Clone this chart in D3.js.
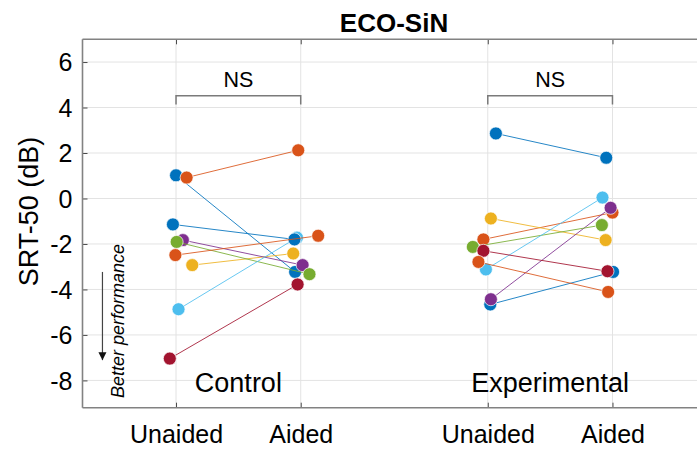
<!DOCTYPE html>
<html>
<head>
<meta charset="utf-8">
<script src="https://cdn.jsdelivr.net/npm/d3@7"></script>
<style>
  html, body { margin: 0; padding: 0; background: #fff; }
  text { font-family: "Liberation Sans", Arial, Helvetica, sans-serif; fill: #000; }
</style>
</head>
<body>
<svg id="chart" width="697" height="450"></svg>
<script>
// ---------------- data ----------------
const title = "ECO-SiN";
const yLabel = "SRT-50 (dB)";
const tickLabels = ["Unaided", "Aided", "Unaided", "Aided"];
const tickPositions = [1, 2, 3.5, 4.5];
const groupNames = ["Control", "Experimental"];
const groupCenters = [1.5, 4];
const sigLabels = ["NS", "NS"];
const yTicks = [-8, -6, -4, -2, 0, 2, 4, 6];
const subjectColors = ["#0072BD", "#D95319", "#EDB120", "#7E2F8E", "#77AC30", "#4DBEEE", "#A2142F", "#0072BD", "#D95319"];

const controlUnaided = [1.02, 0.92, -2.93, -1.83, -1.91, -4.87, -7.04, -1.14, -2.49];
const controlAided   = [-3.23, 2.12, -2.42, -2.93, -3.33, -1.72, -3.78, -1.80, -1.64];
const controlUnaidedJitter = [0.00, 0.085, 0.13, 0.055, 0.005, 0.02, -0.05, -0.025, -0.005];
const controlAidedJitter   = [-0.045, -0.02, -0.06, 0.015, 0.07, -0.03, -0.025, -0.05, 0.14];

const expUnaided = [-4.66, -1.80, -0.88, -4.43, -2.13, -3.12, -2.30, 2.86, -2.79];
const expAided   = [-3.23, -0.62, -1.83, -0.41, -1.17, 0.04, -3.20, 1.79, -4.11];
const expUnaidedJitter = [0.02, -0.035, 0.025, 0.025, -0.12, -0.015, -0.035, 0.065, -0.075];
const expAidedJitter   = [0.005, 0.0, -0.055, -0.015, -0.085, -0.08, -0.04, -0.05, -0.035];

const groups = [
  { u: controlUnaided, a: controlAided, uj: controlUnaidedJitter, aj: controlAidedJitter, xu: tickPositions[0], xa: tickPositions[1] },
  { u: expUnaided, a: expAided, uj: expUnaidedJitter, aj: expAidedJitter, xu: tickPositions[2], xa: tickPositions[3] }
];

// ---------------- layout ----------------
const svg = d3.select("#chart");
const plot = { left: 82.5, right: 706, top: 39.3, bottom: 407.7 };
const x = d3.scaleLinear().domain([0.25, 5.25]).range([plot.left, plot.right]);
const y = d3.scaleLinear().domain([-9.2, 7]).range([plot.bottom, plot.top]);

const axisColor = "#828282";
const gridColor = "#e3e3e3";

// grid
const grid = svg.append("g");
grid.selectAll("line.hg").data(yTicks).join("line")
  .attr("x1", plot.left).attr("x2", plot.right)
  .attr("y1", d => y(d)).attr("y2", d => y(d))
  .attr("stroke", gridColor).attr("stroke-width", 1);
grid.selectAll("line.vg").data(tickPositions).join("line")
  .attr("x1", d => x(d)).attr("x2", d => x(d))
  .attr("y1", plot.top).attr("y2", plot.bottom)
  .attr("stroke", gridColor).attr("stroke-width", 1);

// axes via d3 axis generators
const yAxis = svg.append("g").attr("transform", `translate(${plot.left},0)`)
  .call(d3.axisLeft(y).tickValues(yTicks).tickSize(-5).tickPadding(10).tickFormat(d => String(d)));
const xAxisB = svg.append("g").attr("transform", `translate(0,${plot.bottom})`)
  .call(d3.axisBottom(x).tickValues(tickPositions).tickSize(-5).tickPadding(35)
        .tickFormat((d, i) => tickLabels[i]));
const xAxisT = svg.append("g").attr("transform", `translate(0,${plot.top})`)
  .call(d3.axisTop(x).tickValues(tickPositions).tickSize(-5).tickFormat(""));

[yAxis, xAxisB, xAxisT].forEach(g => {
  g.select(".domain").remove();
  g.selectAll(".tick line").attr("stroke", "#4a4a4a").attr("stroke-width", 1);
  g.selectAll(".tick text").attr("fill", "#262626")
    .style("font-family", '"Liberation Sans", Arial, sans-serif').style("font-size", "25px");
});
xAxisB.selectAll(".tick text").attr("dy", "0");
yAxis.selectAll(".tick text").attr("dy", "0.35em");

// box lines (left, top, bottom)
svg.append("line").attr("x1", plot.left).attr("x2", plot.left).attr("y1", plot.top).attr("y2", plot.bottom)
  .attr("stroke", axisColor).attr("stroke-width", 1.6);
svg.append("line").attr("x1", plot.left).attr("x2", plot.right).attr("y1", plot.top).attr("y2", plot.top)
  .attr("stroke", axisColor).attr("stroke-width", 1.6);
svg.append("line").attr("x1", plot.left).attr("x2", plot.right).attr("y1", plot.bottom).attr("y2", plot.bottom)
  .attr("stroke", axisColor).attr("stroke-width", 1.6);

// title
svg.append("text").attr("x", 394).attr("y", 32).attr("text-anchor", "middle")
  .style("font-size", "26px").style("font-weight", "bold").text(title);

// y label
svg.append("text").attr("transform", "translate(38,211.5) rotate(-90)").attr("text-anchor", "middle")
  .attr("fill", "#262626").style("font-size", "27px").text(yLabel);

// significance brackets
groups.forEach((g, gi) => {
  const b = svg.append("g");
  b.append("path")
    .attr("d", `M${x(g.xu)},${y(4.13)} V${y(4.52)} H${x(g.xa)} V${y(4.13)}`)
    .attr("fill", "none").attr("stroke", "#7a7a7a").attr("stroke-width", 1.5);
  b.append("text").attr("x", x(groupCenters[gi])).attr("y", y(4.9)).attr("text-anchor", "middle")
    .style("font-size", "21.5px").text(sigLabels[gi]);
});

// group names
groupNames.forEach((n, i) => {
  svg.append("text").attr("x", x(groupCenters[i])).attr("y", y(-8.5)).attr("text-anchor", "middle")
    .style("font-size", "27px").text(n);
});

// better performance annotation
svg.append("defs").append("marker").attr("id", "ah").attr("viewBox", "0 0 10 10")
  .attr("refX", 10).attr("refY", 5).attr("markerWidth", 8).attr("markerHeight", 9)
  .attr("markerUnits", "userSpaceOnUse").attr("orient", "auto")
  .append("path").attr("d", "M0,0 L10,5 L0,10 Z").attr("fill", "#111");
svg.append("line").attr("x1", x(0.41)).attr("x2", x(0.41)).attr("y1", y(-3.23)).attr("y2", y(-7.11))
  .attr("stroke", "#444").attr("stroke-width", 1.2).attr("marker-end", "url(#ah)");
svg.append("text").attr("transform", `translate(124,321) rotate(-90)`).attr("text-anchor", "middle")
  .style("font-size", "18px").style("font-style", "italic").text("Better performance");

// subject lines and points
const marks = svg.append("g");
groups.forEach(g => {
  subjectColors.forEach((c, i) => {
    const x1 = x(g.xu + g.uj[i]), y1 = y(g.u[i]);
    const x2 = x(g.xa + g.aj[i]), y2 = y(g.a[i]);
    marks.append("line").attr("x1", x1).attr("y1", y1).attr("x2", x2).attr("y2", y2)
      .attr("stroke", c).attr("stroke-width", 1).attr("stroke-opacity", 0.85);
    marks.append("circle").attr("cx", x1).attr("cy", y1).attr("r", 6.5)
      .attr("fill", c).attr("stroke", "#fff").attr("stroke-width", 0.7);
    marks.append("circle").attr("cx", x2).attr("cy", y2).attr("r", 6.5)
      .attr("fill", c).attr("stroke", "#fff").attr("stroke-width", 0.7);
  });
});
</script>
</body>
</html>
